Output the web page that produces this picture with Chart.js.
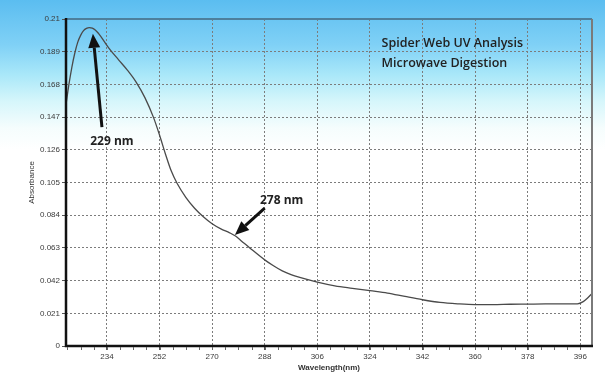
<!DOCTYPE html>
<html>
<head>
<meta charset="utf-8">
<script src="https://cdn.jsdelivr.net/npm/chart.js@4/dist/chart.umd.min.js"></script>
<style>
  html, body { margin: 0; padding: 0; background: #fff; }
  #wrap { width: 605px; height: 376px; }
</style>
</head>
<body>
<div id="wrap"><canvas id="uvChart" width="605" height="376"></canvas></div>
<script>
// wavelength (nm) and absorbance
const wavelengths = [220, 221, 222, 223, 224, 225, 226, 227, 228, 229, 230, 231, 232, 233, 235, 238, 241, 244, 247, 250,
  252, 254, 256, 258, 261, 264, 267, 270, 273, 276, 278, 280, 283, 288, 291, 294, 297, 300, 306, 312,
  318, 324, 330, 336, 342, 348, 354, 360, 366, 372, 378, 384, 390, 395, 397, 398.5, 400];
const absorbance = [0.155, 0.168, 0.179, 0.188, 0.195, 0.1995, 0.2025, 0.204, 0.2045, 0.2042, 0.203, 0.201, 0.1985, 0.1958, 0.1905, 0.1838, 0.1772, 0.1695, 0.1595, 0.1465,
  0.1355, 0.1235, 0.1125, 0.1045, 0.0955, 0.0885, 0.083, 0.0785, 0.0752, 0.0727, 0.0706, 0.0675, 0.0628, 0.0553, 0.0515, 0.0482, 0.0458, 0.044, 0.041, 0.0386,
  0.037, 0.0355, 0.034, 0.0318, 0.0297, 0.028, 0.0271, 0.0266, 0.0266, 0.0268, 0.0269, 0.027, 0.027, 0.0271, 0.0285, 0.0308, 0.0338];

const xTicks = [234, 252, 270, 288, 306, 324, 342, 360, 378, 396];
const yTicks = [0, 0.021, 0.042, 0.063, 0.084, 0.105, 0.126, 0.147, 0.168, 0.189, 0.21];
const yTickLabels = ["0", "0.021", "0.042", "0.063", "0.084", "0.105", "0.126", "0.147", "0.168", "0.189", "0.21"];

const titleLines = ["Spider Web UV Analysis", "Microwave Digestion"];
const peakLabels = ["229 nm", "278 nm"];

// arrows + labels, in data units (nm, absorbance)
const notes = [
  { text: peakLabels[0], tx: 235.7, ty: 0.131, from: [232.3, 0.1405], to: [229.2, 0.2005] },
  { text: peakLabels[1], tx: 293.8, ty: 0.0931, from: [288.0, 0.0885], to: [277.8, 0.0713] }
];

const bgPlugin = {
  id: "bg",
  beforeDraw(chart) {
    const c = chart.ctx;
    const g = c.createLinearGradient(0, 0, 0, chart.height);
    g.addColorStop(0, "#5bbdf0");
    g.addColorStop(0.12, "#80d1f6");
    g.addColorStop(0.2, "#aae8f9");
    g.addColorStop(0.27, "#d6f6fb");
    g.addColorStop(0.34, "#f5fdfd");
    g.addColorStop(0.4, "#ffffff");
    c.save();
    c.fillStyle = g;
    c.fillRect(0, 0, chart.width, chart.height);
    c.restore();
  }
};

function arrow(c, x1, y1, x2, y2) {
  const ang = Math.atan2(y2 - y1, x2 - x1);
  const hl = 14, hw = 6;
  const bx = x2 - hl * Math.cos(ang), by = y2 - hl * Math.sin(ang);
  c.beginPath();
  c.moveTo(x1, y1);
  c.lineTo(bx, by);
  c.lineWidth = 3;
  c.strokeStyle = "#111";
  c.stroke();
  c.beginPath();
  c.moveTo(x2, y2);
  c.lineTo(bx + hw * Math.sin(ang), by - hw * Math.cos(ang));
  c.lineTo(bx - hw * Math.sin(ang), by + hw * Math.cos(ang));
  c.closePath();
  c.fillStyle = "#111";
  c.fill();
}

const notesPlugin = {
  id: "notes",
  afterDatasetsDraw(chart) {
    const c = chart.ctx;
    const xs = chart.scales.x, ys = chart.scales.y;
    const a = chart.chartArea;
    c.save();
    // frame
    c.lineCap = "butt";
    c.strokeStyle = "#4d7f9c"; c.lineWidth = 2;
    c.beginPath(); c.moveTo(a.left, a.top); c.lineTo(a.right, a.top); c.stroke();
    c.strokeStyle = "#7a7a7a"; c.lineWidth = 2;
    c.beginPath(); c.moveTo(a.right, a.top); c.lineTo(a.right, a.bottom); c.stroke();
    c.strokeStyle = "#111"; c.lineWidth = 2.5;
    c.beginPath(); c.moveTo(a.left, a.top - 1); c.lineTo(a.left, a.bottom); c.lineTo(a.right + 1, a.bottom); c.stroke();
    // minor ticks on the wavelength axis
    c.strokeStyle = "#666"; c.lineWidth = 1;
    for (let v = 220.5; v < 400; v += 4.5) {
      const px = Math.round(xs.getPixelForValue(v)) + 0.5;
      c.beginPath(); c.moveTo(px, a.bottom + 1); c.lineTo(px, a.bottom + 4); c.stroke();
    }
    notes.forEach((n) => {
      arrow(c, xs.getPixelForValue(n.from[0]), ys.getPixelForValue(n.from[1]),
        xs.getPixelForValue(n.to[0]), ys.getPixelForValue(n.to[1]));
      c.font = "bold 12px 'Open Sans', sans-serif";
      c.fillStyle = "#222";
      c.textAlign = "center";
      c.textBaseline = "middle";
      c.fillText(n.text, xs.getPixelForValue(n.tx), ys.getPixelForValue(n.ty));
    });
    c.font = "600 12.5px 'Open Sans', sans-serif";
    c.fillStyle = "#222";
    c.textAlign = "left";
    c.textBaseline = "middle";
    titleLines.forEach((t, i) => {
      c.fillText(t, xs.getPixelForValue(328), ys.getPixelForValue(0.1945 - i * 0.013));
    });
    c.restore();
  }
};

new Chart(document.getElementById("uvChart"), {
  type: "line",
  data: {
    labels: wavelengths,
    datasets: [{
      data: wavelengths.map((w, i) => ({ x: w, y: absorbance[i] })),
      borderColor: "#4a4a4a",
      borderWidth: 1.3,
      pointRadius: 0,
      fill: false,
      cubicInterpolationMode: "monotone"
    }]
  },
  options: {
    responsive: false,
    animation: false,
    layout: { padding: { top: 19, right: 13, left: 0, bottom: 0 } },
    plugins: { legend: { display: false }, tooltip: { enabled: false } },
    scales: {
      x: {
        type: "linear",
        min: 220,
        max: 400,
        afterBuildTicks: (s) => { s.ticks = xTicks.map((v) => ({ value: v })); },
        afterFit: (s) => { s.height = 30; },
        ticks: {
          autoSkip: false,
          maxRotation: 0,
          padding: 2,
          color: "#3a3a3a",
          font: { family: "'Liberation Sans', Arial", size: 8 },
          callback: (v) => String(v)
        },
        grid: { color: "#7c7c7c", lineWidth: 1, drawTicks: true, tickLength: 4, tickColor: "#555", tickBorderDash: [] },
        border: { display: false, dash: [2, 2] },
        title: {
          display: true,
          text: "Wavelength(nm)",
          color: "#333",
          font: { family: "'Liberation Sans', Arial", size: 8, weight: "bold" },
          padding: { top: 0, bottom: 3 }
        }
      },
      y: {
        min: 0,
        max: 0.21,
        afterBuildTicks: (s) => { s.ticks = yTicks.map((v) => ({ value: v })); },
        afterFit: (s) => { s.width = 66; },
        ticks: {
          autoSkip: false,
          padding: 2,
          color: "#3a3a3a",
          font: { family: "'Liberation Sans', Arial", size: 8 },
          callback: (v) => yTickLabels[yTicks.indexOf(v)] ?? ""
        },
        grid: { color: "#7c7c7c", lineWidth: 1, drawTicks: true, tickLength: 4, tickColor: "#555", tickBorderDash: [] },
        border: { display: false, dash: [2, 2] },
        title: {
          display: true,
          text: "Absorbance",
          color: "#333",
          font: { family: "'Liberation Sans', Arial", size: 8 },
          padding: { top: 27, bottom: 0 }
        }
      }
    }
  },
  plugins: [bgPlugin, notesPlugin]
});
</script>
</body>
</html>
